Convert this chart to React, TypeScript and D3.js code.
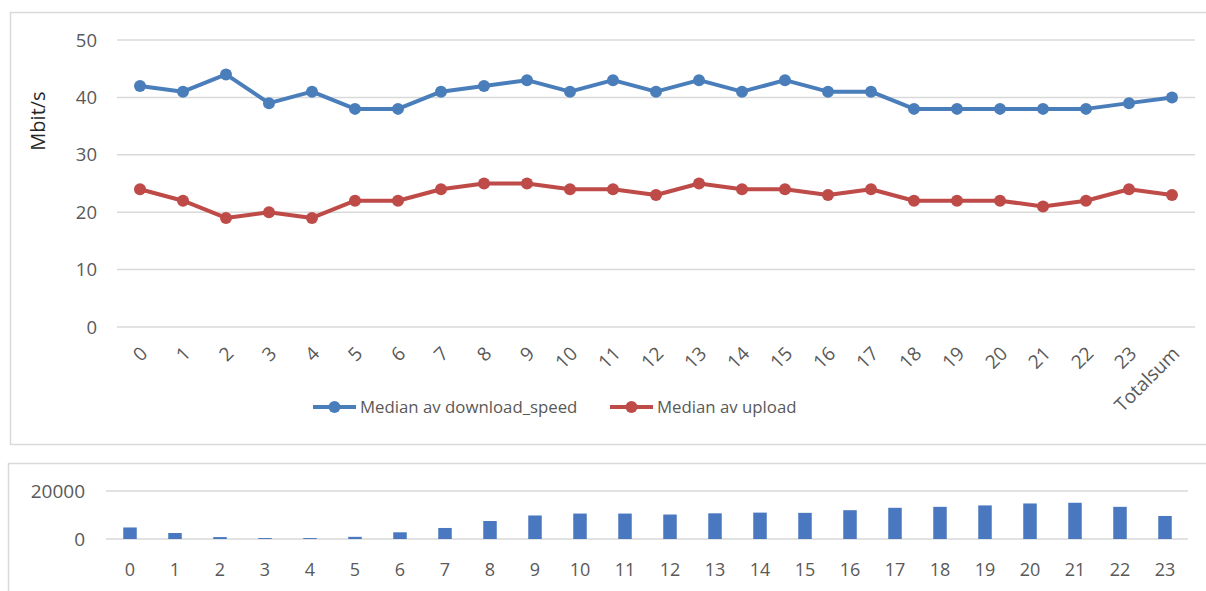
import React from "react";
import * as d3 from "d3";

// Hour of day (0–23) plus the grand total column
const hourLabels = ["0","1","2","3","4","5","6","7","8","9","10","11","12","13","14","15","16","17","18","19","20","21","22","23","Totalsum"];
const downloadMedian = [42,41,44,39,41,38,38,41,42,43,41,43,41,43,41,43,41,41,38,38,38,38,38,39,40];
const uploadMedian = [24,22,19,20,19,22,22,24,25,25,24,24,23,25,24,24,23,24,22,22,22,21,22,24,23];
const speedTicks = [0,10,20,30,40,50];

// Number of measurements per hour
const countHours = ["0","1","2","3","4","5","6","7","8","9","10","11","12","13","14","15","16","17","18","19","20","21","22","23"];
const countValues = [4800,2500,800,400,400,900,2800,4600,7500,9800,10600,10600,10200,10700,11000,10900,12000,13000,13400,14000,14800,15100,13400,9600];
const countTicks = [0,20000];

const FONT = "'Open Sans', 'Liberation Sans', sans-serif";
const TEXT = "#595959";
const GRID = "#D9D9D9";
const BLUE = "#4A7EBB";
const RED = "#BE4B48";
const BAR = "#4A78C0";

export default function App() {
  // top chart
  const x = d3.scalePoint<string>().domain(hourLabels).range([140, 1172]);
  const y = d3.scaleLinear().domain([0, 50]).range([327, 40]);
  const line = d3.line<number>().x((_, i) => x(hourLabels[i])!).y((d) => y(d));

  // bottom chart
  const xb = d3.scaleBand<string>().domain(countHours).range([107.5, 1187.5]).paddingInner(0.7).paddingOuter(0.35);
  const yb = d3.scaleLinear().domain([0, 20000]).range([539, 491]);

  const series = [
    { name: "Median av download_speed", values: downloadMedian, color: BLUE, lx: 313 },
    { name: "Median av upload", values: uploadMedian, color: RED, lx: 610 },
  ];

  return (
    <svg width={1206} height={591} style={{ position: "absolute", left: 0, top: 0, background: "#fff" }} fontFamily={FONT}>
      {/* panel frames */}
      <rect x={10.5} y={12.5} width={1210} height={432} fill="none" stroke={GRID} strokeWidth={1.5} />
      <rect x={8.5} y={463.5} width={1210} height={140} fill="none" stroke={GRID} strokeWidth={1.5} />

      {/* top chart grid + y ticks */}
      {speedTicks.map((t) => (
        <g key={t}>
          <line x1={117} x2={1195} y1={y(t)} y2={y(t)} stroke={GRID} strokeWidth={1.5} />
          <text x={97} y={y(t)} dy="0.36em" textAnchor="end" fontSize={18.5} fill={TEXT}>{t}</text>
        </g>
      ))}
      <text transform={`translate(45,121) rotate(-90)`} textAnchor="middle" fontSize={20} fill="#262626">Mbit/s</text>

      {/* x labels rotated */}
      {hourLabels.map((h) => (
        <text key={h} transform={`translate(${x(h)! + 4},350) rotate(-45)`} textAnchor="end" dy="0.35em" fontSize={19} fill={TEXT}>{h}</text>
      ))}

      {/* lines */}
      {series.map((s) => (
        <g key={s.name}>
          <path d={line(s.values)!} fill="none" stroke={s.color} strokeWidth={4} strokeLinejoin="round" />
          {s.values.map((v, i) => (
            <circle key={i} cx={x(hourLabels[i])!} cy={y(v)} r={6} fill={s.color} />
          ))}
        </g>
      ))}

      {/* legend */}
      {series.map((s) => (
        <g key={s.name + "-lg"}>
          <line x1={s.lx} x2={s.lx + 43} y1={407} y2={407} stroke={s.color} strokeWidth={4} />
          <circle cx={s.lx + 21.5} cy={407} r={6} fill={s.color} />
          <text x={s.lx + 47} y={407} dy="0.35em" fontSize={16.8} fill={TEXT}>{s.name}</text>
        </g>
      ))}

      {/* bottom chart */}
      {countTicks.map((t) => (
        <g key={t}>
          <line x1={106} x2={1188} y1={yb(t)} y2={yb(t)} stroke={GRID} strokeWidth={1.5} />
          <text x={85} y={yb(t)} dy="0.36em" textAnchor="end" fontSize={19} fill={TEXT}>{t}</text>
        </g>
      ))}
      {countValues.map((v, i) => (
        <rect key={i} x={xb(countHours[i])!} y={yb(v)} width={xb.bandwidth()} height={yb(0) - yb(v)} fill={BAR} />
      ))}
      {countHours.map((h) => (
        <text key={h} x={xb(h)! + xb.bandwidth() / 2} y={570} dy="0.36em" textAnchor="middle" fontSize={18} fill={TEXT}>{h}</text>
      ))}
    </svg>
  );
}
